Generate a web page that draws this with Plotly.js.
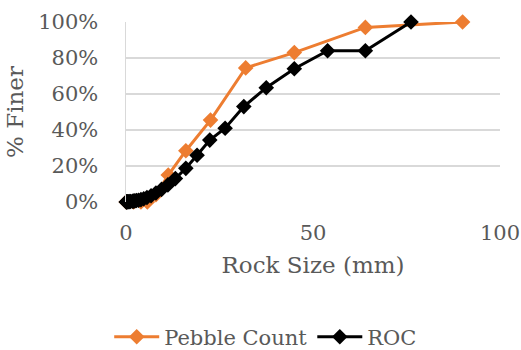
<!DOCTYPE html>
<html><head><meta charset="utf-8">
<script src="https://cdn.plot.ly/plotly-3.0.1.min.js"></script>
<style>html,body{margin:0;padding:0;background:#fff}#chart{width:521px;height:350px}</style>
</head><body><div id="chart"></div>
<script>
const pebbleSize = [0.062, 2, 4, 5.7, 8, 11.3, 16, 22.6, 32, 45, 64, 90];
const pebbleFiner = [0, 0, 0, 0, 0.04, 0.15, 0.285, 0.455, 0.745, 0.83, 0.97, 1.0];
const rocSize = [0.075, 0.15, 0.3, 0.425, 0.6, 0.85, 1.18, 1.7, 2, 2.36, 2.8, 3.35, 4, 4.75, 5.6, 6.7, 8, 9.5, 11.2, 13.2, 16, 19, 22.4, 26.5, 31.5, 37.5, 45, 53.9, 64, 76.2];
const rocFiner = [0, 0.0005, 0.001, 0.001, 0.0015, 0.002, 0.003, 0.004, 0.005, 0.006, 0.008, 0.01, 0.013, 0.018, 0.025, 0.035, 0.05, 0.07, 0.095, 0.13, 0.187, 0.26, 0.344, 0.41, 0.53, 0.635, 0.74, 0.84, 0.84, 1.0];
const xTicks = [0, 50, 100];
const yTicks = [0, 0.2, 0.4, 0.6, 0.8, 1.0];
const yTickText = ['0%', '20%', '40%', '60%', '80%', '100%'];

const fam = 'DejaVu Serif';
const grey = '#595959';
const traces = [
  {x: pebbleSize, y: pebbleFiner, name: 'Pebble Count', type: 'scatter', mode: 'lines+markers',
   line: {color: '#ED7D31', width: 3}, marker: {symbol: 'diamond', size: 12, color: '#ED7D31'}, cliponaxis: false},
  {x: rocSize, y: rocFiner, name: 'ROC', type: 'scatter', mode: 'lines+markers',
   line: {color: '#000000', width: 3}, marker: {symbol: 'diamond', size: 12, color: '#000000'}, cliponaxis: false}
];
const layout = {
  width: 521, height: 350,
  margin: {l: 126, r: 21, t: 22, b: 148},
  paper_bgcolor: '#fff', plot_bgcolor: '#fff',
  font: {family: fam, color: grey, size: 21},
  showlegend: true,
  legend: {orientation: 'h', xref: 'container', yref: 'container', x: 0.51, y: 0.037, xanchor: 'center', yanchor: 'middle',
    font: {family: fam, color: grey, size: 21}, tracegroupgap: 0, itemwidth: 45},
  xaxis: {range: [0, 100], tickvals: xTicks, ticktext: xTicks.map(String), showgrid: false, zeroline: false,
    showline: false, ticks: '', ticklabelstandoff: 16, tickfont: {family: fam, size: 21},
    title: {text: 'Rock Size (mm)', font: {family: fam, size: 23, color: grey}, standoff: 12}},
  yaxis: {range: [0, 1], tickvals: yTicks, ticktext: yTickText, showgrid: true, gridcolor: '#d9d9d9', gridwidth: 1.5,
    zeroline: false, showline: true, linecolor: '#d9d9d9', linewidth: 1.5, ticks: '', ticklabelstandoff: 22, tickfont: {family: fam, size: 21},
    title: {text: '% Finer', font: {family: fam, size: 23, color: grey}, standoff: 8}}
};
Plotly.newPlot('chart', traces, layout, {displayModeBar: false, staticPlot: true});
</script></body></html>
